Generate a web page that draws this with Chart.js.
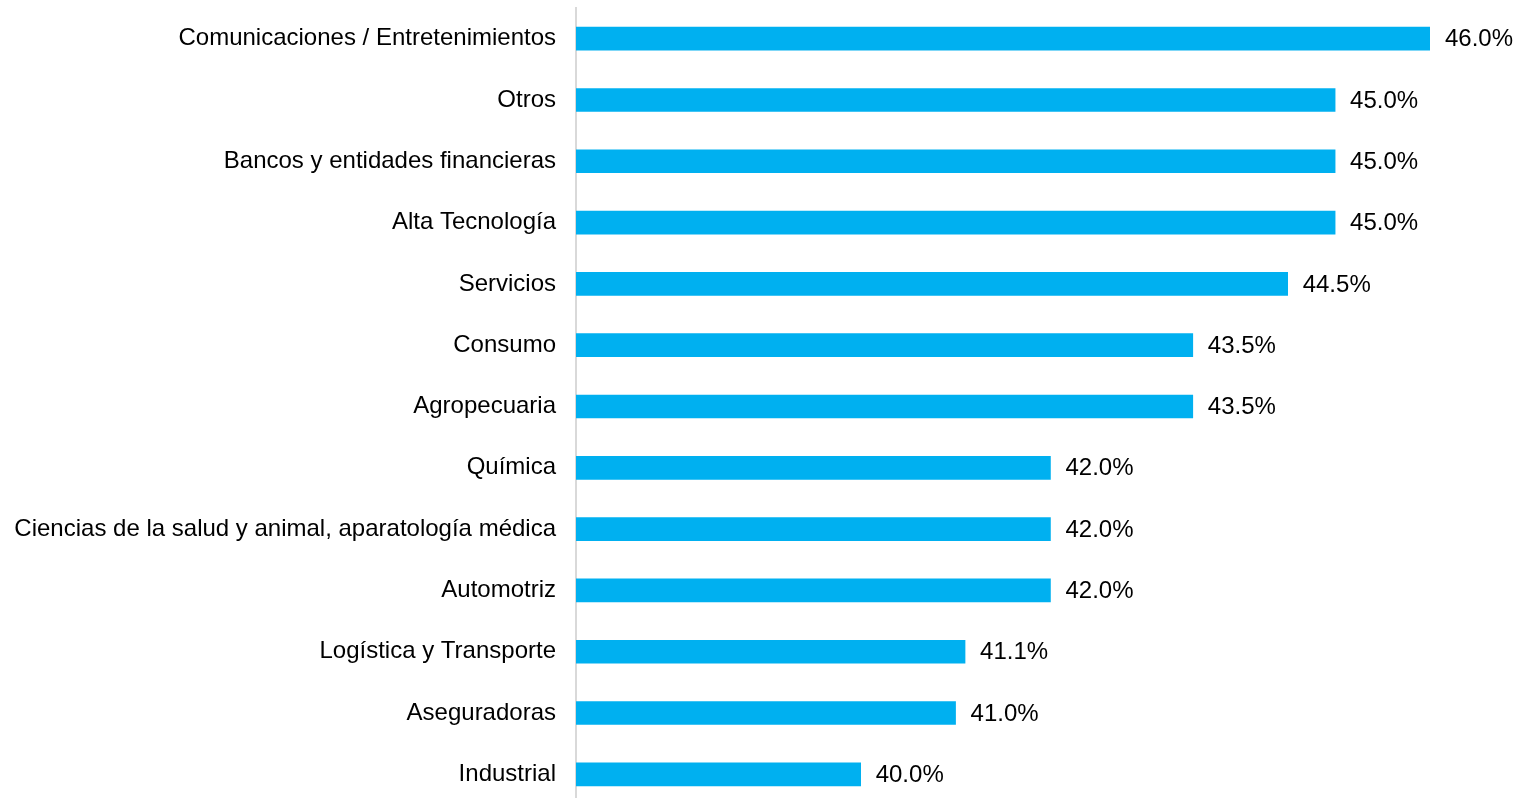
<!DOCTYPE html>
<html>
<head>
<meta charset="utf-8">
<script src="https://cdn.jsdelivr.net/npm/chart.js@4/dist/chart.umd.min.js"></script>
<style>
  html, body { margin:0; padding:0; background:#fff; overflow:hidden; }
  /* el lienzo es algo más alto que la ventana: la última barra queda como en el original */
  #wrap { width:1517px; height:805px; }
</style>
</head>
<body>
<div id="wrap"><canvas id="myChart"></canvas></div>
<script>
// datos del gráfico
const sectores = [
  'Comunicaciones / Entretenimientos',
  'Otros',
  'Bancos y entidades financieras',
  'Alta Tecnología',
  'Servicios',
  'Consumo',
  'Agropecuaria',
  'Química',
  'Ciencias de la salud y animal, aparatología médica',
  'Automotriz',
  'Logística y Transporte',
  'Aseguradoras',
  'Industrial'
];
const porcentajes = [46.0, 45.0, 45.0, 45.0, 44.5, 43.5, 43.5, 42.0, 42.0, 42.0, 41.1, 41.0, 40.0];
const ejeMin = 37;
const ejeMax = 46;

const FUENTE = '"Liberation Sans", Arial, sans-serif';

// etiquetas de valor al final de cada barra
const etiquetasValor = {
  id: 'etiquetasValor',
  afterDatasetsDraw(chart){
    const ctx = chart.ctx;
    const meta = chart.getDatasetMeta(0);
    ctx.save();
    ctx.font = '24px ' + FUENTE;
    ctx.fillStyle = '#000';
    ctx.textAlign = 'left';
    ctx.textBaseline = 'middle';
    meta.data.forEach((bar, i) => {
      ctx.fillText(porcentajes[i].toFixed(1) + '%', bar.x + 15, bar.y + 1);
    });
    ctx.restore();
  }
};

new Chart(document.getElementById('myChart').getContext('2d'), {
  type: 'bar',
  data: {
    labels: sectores,
    datasets: [{
      data: porcentajes,
      backgroundColor: '#00B0F0',
      borderWidth: 0,
      barThickness: 23
    }]
  },
  options: {
    indexAxis: 'y',
    responsive: true,
    maintainAspectRatio: false,
    animation: false,
    layout: { padding: { top: 8, right: 87, bottom: 0, left: 0 } },
    plugins: {
      legend: { display: false },
      tooltip: { enabled: false }
    },
    scales: {
      x: {
        display: false,
        min: ejeMin,
        max: ejeMax
      },
      y: {
        afterFit(scale){
          scale.width = 576;
          scale.paddingTop = 0;
          scale.paddingBottom = 0;
        },
        grid: { display: false, drawTicks: false },
        border: { display: true, color: '#d9d9d9', width: 2 },
        ticks: {
          padding: 20,
          color: '#000',
          font: { family: FUENTE, size: 24 }
        }
      }
    }
  },
  plugins: [etiquetasValor]
});
</script>
</body>
</html>
